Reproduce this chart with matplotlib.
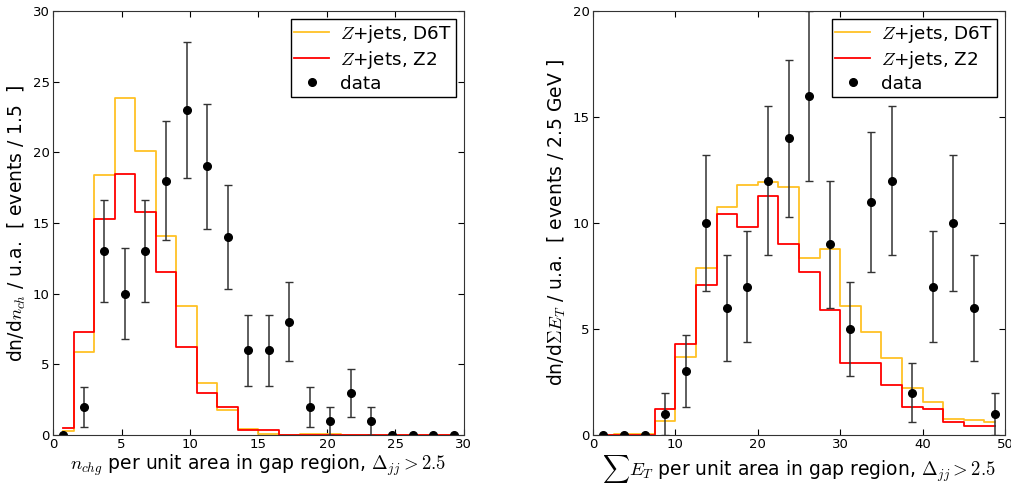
import numpy as np
import matplotlib
matplotlib.use("Agg")
import matplotlib.pyplot as plt

plt.rcParams['mathtext.fontset'] = 'cm'
plt.rcParams['font.family'] = ['DejaVu Sans']

# ---- left panel: n_chg ----
nch_centers = [0.75, 2.25, 3.75, 5.25, 6.75, 8.25, 9.75, 11.25, 12.75, 14.25,
               15.75, 17.25, 18.75, 20.25, 21.75, 23.25, 24.75, 26.25, 27.75, 29.25]
nch_d6t = [0.3, 5.87, 18.4, 23.83, 20.06, 14.07, 9.14, 3.7, 1.77, 0.42,
           0.07, 0.02, 0.05, 0.05, 0.0, 0.0, 0.0, 0.0, 0.0, 0.0]
nch_z2 = [0.47, 7.28, 15.3, 18.45, 15.8, 11.52, 6.22, 3.0, 2.0, 0.35,
          0.35, 0.0, 0.0, 0.0, 0.0, 0.0, 0.0, 0.0, 0.0, 0.0]
nch_data = [0, 2, 13, 10, 13, 18, 23, 19, 14, 6, 6, 8, 2, 1, 3, 1, 0, 0, 0, 0]
nch_err = [0, 1.4, 3.6, 3.2, 3.6, 4.2, 4.8, 4.4, 3.7, 2.5, 2.5, 2.8, 1.4, 1.0, 1.7, 1.0, 0, 0, 0, 0]

# ---- right panel: sum E_T ----
et_centers = [1.25, 3.75, 6.25, 8.75, 11.25, 13.75, 16.25, 18.75, 21.25, 23.75,
              26.25, 28.75, 31.25, 33.75, 36.25, 38.75, 41.25, 43.75, 46.25, 48.75]
et_d6t = [0.0, 0.03, 0.05, 0.68, 3.7, 7.87, 10.76, 11.8, 11.92, 11.7,
          8.36, 8.78, 6.08, 4.85, 3.63, 2.2, 1.57, 0.77, 0.7, 0.63]
et_z2 = [0.0, 0.0, 0.02, 1.24, 4.27, 7.07, 10.4, 9.83, 11.26, 9.02,
         7.7, 5.89, 3.41, 3.41, 2.37, 1.3, 1.24, 0.63, 0.44, 0.44]
et_data = [0, 0, 0, 1, 3, 10, 6, 7, 12, 14, 16, 9, 5, 11, 12, 2, 7, 10, 6, 1]
et_err = [0, 0, 0, 1.0, 1.7, 3.2, 2.5, 2.6, 3.5, 3.7, 4.0, 3.0, 2.2, 3.3, 3.5, 1.4, 2.6, 3.2, 2.5, 1.0]

ORANGE = '#FFC125'
RED = '#FF0000'

fig = plt.figure(figsize=(10.12, 4.83), dpi=100)
ax1 = fig.add_axes([0.0524, 0.0994, 0.406, 0.878])
ax2 = fig.add_axes([0.586, 0.0994, 0.407, 0.878])


def panel(ax, x, d6t, z2, data, err, xlim, ylim, xticks, yticks, xlabel, ylabel):
    ax.plot(x, d6t, drawstyle='steps-mid', color=ORANGE, lw=1.3, label=r'$Z$+jets, D6T')
    ax.plot(x, z2, drawstyle='steps-mid', color=RED, lw=1.3, label=r'$Z$+jets, Z2')
    err_arr = [e if e > 0 else np.nan for e in err]
    ax.errorbar(x, data, yerr=err_arr, fmt='none', ecolor='#333333', elinewidth=1.1,
                capsize=3, capthick=1.0)
    ax.plot(x, data, 'o', color='black', ms=5.5, label='data')
    ax.set_xlim(*xlim)
    ax.set_ylim(*ylim)
    ax.set_xticks(xticks)
    ax.set_yticks(yticks)
    for s in ax.spines.values():
        s.set_color('#333333')
    ax.tick_params(direction='in', top=True, right=True, labelsize=9.5, length=4, pad=2.5)
    ax.set_xlabel(xlabel, fontsize=13.5, labelpad=1)
    ax.set_ylabel(ylabel, fontsize=13.5, labelpad=3)
    leg = ax.legend(loc='upper right', numpoints=1, fontsize=13.2, fancybox=False,
                    framealpha=1, edgecolor='black', borderaxespad=0.45, borderpad=0.2,
                    handlelength=1.9, handletextpad=0.6, labelspacing=0.22)
    leg.get_frame().set_linewidth(1.0)


panel(ax1, nch_centers, nch_d6t, nch_z2, nch_data, nch_err,
      (0, 30), (0, 30), [0, 5, 10, 15, 20, 25, 30], [0, 5, 10, 15, 20, 25, 30],
      r'$n_{chg}$ per unit area in gap region, $\Delta_{jj}>2.5$',
      r'dn/d$n_{ch}$ / u.a.  [ events / 1.5  ]')
panel(ax2, et_centers, et_d6t, et_z2, et_data, et_err,
      (0, 50), (0, 20), [0, 10, 20, 30, 40, 50], [0, 5, 10, 15, 20],
      r'$\sum E_T$ per unit area in gap region, $\Delta_{jj}>2.5$',
      r'dn/d$\Sigma E_T$ / u.a.  [ events / 2.5 GeV ]')

fig.savefig('out.png', dpi=100)
